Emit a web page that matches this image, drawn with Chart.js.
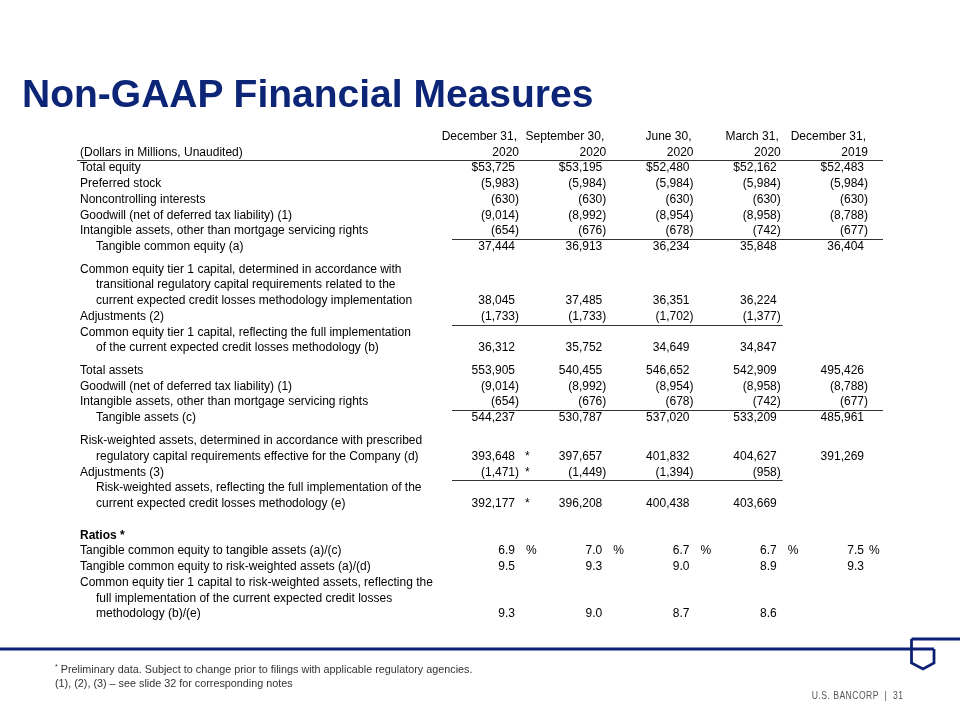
<!DOCTYPE html>
<html>
<head>
<meta charset="utf-8">
<script src="https://cdn.jsdelivr.net/npm/chart.js@4.4.1/dist/chart.umd.min.js"></script>
<style>
  body { margin: 0; background: #fff; }
  #slide { position: relative; width: 960px; height: 720px; overflow: hidden; font-family: "Liberation Sans", Arial, sans-serif; }
  #table-plot { position: absolute; left: 0; top: 0; }
  .title { position: absolute; left: 22px; top: 74px; font-size: 39px; line-height: 40px; font-weight: bold; color: #0c2577; white-space: nowrap; }
  .notes { position: absolute; left: 55px; top: 662px; font-family: "Liberation Sans Narrow", "Liberation Sans", Arial, sans-serif; font-size: 10.8px; line-height: 14px; color: #333; white-space: nowrap; }
  .notes sup { font-size: 7px; vertical-align: 4px; line-height: 0; }
  .footer { position: absolute; right: 57px; top: 688px; font-size: 11px; line-height: 14px; letter-spacing: 0.6px; color: #555; white-space: nowrap; transform: scaleX(0.78); transform-origin: right center; }
  #brand { position: absolute; left: 0; top: 0; }
</style>
</head>
<body>
<div id="slide">
  <canvas id="table-plot" width="960" height="720"></canvas>
  <svg id="brand" width="960" height="720">
    <path d="M0 649 H934 M911.5 639 H960 M911.5 639 V663 L923 669 L934 663 V649" fill="none" stroke="#0c2074" stroke-width="2.8"/>
  </svg>
  <div class="title">Non-GAAP Financial Measures</div>
  <div class="notes"><sup>*</sup> Preliminary data. Subject to change prior to filings with applicable regulatory agencies.<br>(1), (2), (3) &ndash; see slide 32 for corresponding notes</div>
  <div class="footer">U.S. BANCORP &nbsp;|&nbsp; 31</div>
</div>
<script>
// Columns
const periodDates = ['December 31,', 'September 30,', 'June 30,', 'March 31,', 'December 31,'];
const periodYears = ['2020', '2020', '2020', '2020', '2019'];

// Dollars in millions
const totalEquity = [53725, 53195, 52480, 52162, 52483];
const preferredStock = [-5983, -5984, -5984, -5984, -5984];
const noncontrollingInterests = [-630, -630, -630, -630, -630];
const goodwill = [-9014, -8992, -8954, -8958, -8788];
const intangibleAssets = [-654, -676, -678, -742, -677];
const tangibleCommonEquity = [37444, 36913, 36234, 35848, 36404];
const cet1Transitional = [38045, 37485, 36351, 36224, null];
const cet1Adjustments = [-1733, -1733, -1702, -1377, null];
const cet1FullyImplemented = [36312, 35752, 34649, 34847, null];
const totalAssets = [553905, 540455, 546652, 542909, 495426];
const tangibleAssets = [544237, 530787, 537020, 533209, 485961];
const rwaTransitional = [393648, 397657, 401832, 404627, 391269];
const rwaAdjustments = [-1471, -1449, -1394, -958, null];
const rwaFullyImplemented = [392177, 396208, 400438, 403669, null];

// Ratios (%)
const tceToTangibleAssets = [6.9, 7.0, 6.7, 6.7, 7.5];
const tceToRwa = [9.5, 9.3, 9.0, 8.9, 9.3];
const cet1ToRwa = [9.3, 9.0, 8.7, 8.6, null];

// preliminary (*) marks by column
const prelimFlags = [true, false, false, false, false];

const rows = [
  { lines: ['Total equity'], values: totalEquity, dollar: true },
  { lines: ['Preferred stock'], values: preferredStock },
  { lines: ['Noncontrolling interests'], values: noncontrollingInterests },
  { lines: ['Goodwill (net of deferred tax liability) (1)'], values: goodwill },
  { lines: ['Intangible assets, other than mortgage servicing rights'], values: intangibleAssets, rule: true },
  { lines: ['Tangible common equity (a)'], values: tangibleCommonEquity, indent: true },
  { gap: 0.44 },
  { lines: ['Common equity tier 1 capital, determined in accordance with',
            'transitional regulatory capital requirements related to the',
            'current expected credit losses methodology implementation'], values: cet1Transitional },
  { lines: ['Adjustments (2)'], values: cet1Adjustments, rule: true },
  { lines: ['Common equity tier 1 capital, reflecting the full implementation',
            'of the current expected credit losses methodology (b)'], values: cet1FullyImplemented },
  { gap: 0.42 },
  { lines: ['Total assets'], values: totalAssets },
  { lines: ['Goodwill (net of deferred tax liability) (1)'], values: goodwill },
  { lines: ['Intangible assets, other than mortgage servicing rights'], values: intangibleAssets, rule: true },
  { lines: ['Tangible assets (c)'], values: tangibleAssets, indent: true },
  { gap: 0.46 },
  { lines: ['Risk-weighted assets, determined in accordance with prescribed',
            'regulatory capital requirements effective for the Company (d)'], values: rwaTransitional, flags: prelimFlags },
  { lines: ['Adjustments (3)'], values: rwaAdjustments, rule: true, flags: prelimFlags },
  { lines: ['Risk-weighted assets, reflecting the full implementation of the',
            'current expected credit losses methodology (e)'], values: rwaFullyImplemented, indent: true, flags: prelimFlags },
  { gap: 1.0 },
  { lines: ['Ratios *'], bold: true },
  { lines: ['Tangible common equity to tangible assets (a)/(c)'], values: tceToTangibleAssets, pct: true, sign: true },
  { lines: ['Tangible common equity to risk-weighted assets (a)/(d)'], values: tceToRwa, pct: true },
  { lines: ['Common equity tier 1 capital to risk-weighted assets, reflecting the',
            'full implementation of the current expected credit losses',
            'methodology (b)/(e)'], values: cet1ToRwa, pct: true }
];

// assign a vertical slot to every text line
let slot = 0;
const labelLines = [];
rows.forEach(r => {
  if (r.gap) { slot += r.gap; return; }
  r.lines.forEach((t, i) => {
    labelLines.push({ text: t, slot: slot, indent: r.indent || i > 0, bold: r.bold });
    r.slot = slot;
    slot += 1;
  });
});
const lastSlot = slot - 1;

const valueRows = rows.filter(r => r.values);
const datasets = valueRows.map(r => ({
  label: r.lines[0],
  data: r.values.map((v, i) => v == null ? null : { x: i, y: r.slot }).filter(p => p),
  pointRadius: 0,
  showLine: false
}));

const FONT = '12px "Liberation Sans", Arial, sans-serif';
const BOLD = 'bold 12px "Liberation Sans", Arial, sans-serif';
const labelX = 80;

function fmt(v, r) {
  if (r.pct) return v.toFixed(1);
  const s = Math.abs(v).toLocaleString('en-US');
  return (v < 0 ? '(' : '') + (r.dollar ? '$' : '') + s;
}

const tablePlugin = {
  id: 'tableText',
  afterDatasetsDraw(chart) {
    const ctx = chart.ctx;
    const xs = chart.scales.x, ys = chart.scales.y;
    const lastX = xs.getPixelForValue(periodDates.length - 1);
    ctx.save();
    ctx.fillStyle = '#000';
    ctx.textBaseline = 'middle';

    // header
    ctx.font = FONT;
    ctx.textAlign = 'right';
    periodDates.forEach((d, i) => {
      const x = xs.getPixelForValue(i);
      ctx.fillText(d, x + 2, ys.getPixelForValue(-2.0));
      ctx.fillText(periodYears[i], x + 4, ys.getPixelForValue(-1));
    });
    ctx.textAlign = 'left';
    ctx.fillText('(Dollars in Millions, Unaudited)', labelX, ys.getPixelForValue(-1));

    ctx.strokeStyle = '#333';
    ctx.lineWidth = 1;
    let hy = Math.round(ys.getPixelForValue(-0.48)) + 0.5;
    ctx.beginPath(); ctx.moveTo(labelX - 3, hy); ctx.lineTo(lastX + 19, hy); ctx.stroke();

    // row labels
    labelLines.forEach(l => {
      ctx.font = l.bold ? BOLD : FONT;
      ctx.fillText(l.text, labelX + (l.indent ? 16 : 0), ys.getPixelForValue(l.slot));
    });

    // cells, placed at the scatter points
    ctx.font = FONT;
    datasets.forEach((ds, di) => {
      const r = valueRows[di];
      const meta = chart.getDatasetMeta(di);
      meta.data.forEach((pt, k) => {
        const col = ds.data[k].x;
        const v = r.values[col];
        const last = col === periodDates.length - 1;
        ctx.textAlign = 'right';
        ctx.fillText(fmt(v, r), pt.x, pt.y);
        ctx.textAlign = 'left';
        if (v < 0) ctx.fillText(')', pt.x, pt.y);
        if (r.flags && r.flags[col]) ctx.fillText('*', pt.x + 10, pt.y);
        if (r.sign) ctx.fillText('%', pt.x + (last ? 5 : 11), pt.y);
      });
      if (r.rule) {
        const full = r.values[r.values.length - 1] != null;
        const y = Math.round(ys.getPixelForValue(r.slot + 0.5)) + 0.5;
        const x1 = full ? lastX + 19 : xs.getPixelForValue(periodDates.length - 2) + 6;
        ctx.beginPath(); ctx.moveTo(xs.getPixelForValue(0) - 63, y); ctx.lineTo(x1, y); ctx.stroke();
      }
    });
    ctx.restore();
  }
};

new Chart('table-plot', {
  type: 'scatter',
  data: { datasets: datasets },
  options: {
    responsive: false,
    animation: false,
    layout: { padding: { left: 515, right: 96, top: 168, bottom: 106 } },
    plugins: { legend: { display: false }, tooltip: { enabled: false } },
    scales: {
      x: { type: 'linear', min: 0, max: periodDates.length - 1, display: false },
      y: { type: 'linear', reverse: true, min: 0, max: lastSlot, display: false }
    }
  },
  plugins: [tablePlugin]
});
</script>
</body>
</html>
